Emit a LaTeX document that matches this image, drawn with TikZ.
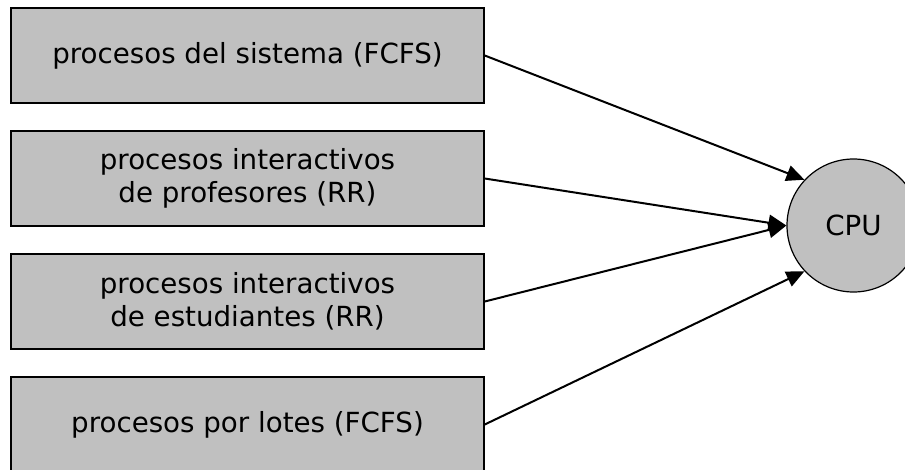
\documentclass[tikz,border=0pt]{standalone}
\usepackage{fontspec}
\setmainfont{DejaVu Sans}
\usetikzlibrary{arrows.meta}
\definecolor{boxgray}{HTML}{C0C0C0}

\begin{document}
\begin{tikzpicture}[x=1pt,y=-1pt,
	proc/.style={rectangle, draw, fill=boxgray, line width=1.5pt, minimum width=473pt, minimum height=95pt, align=center, font=\fontsize{27.7}{33}\selectfont},
	cpu/.style={circle, draw, fill=boxgray, line width=1.2pt, minimum size=133pt, inner sep=0pt, font=\fontsize{27.7}{33}\selectfont},
	flow/.style={-{Triangle[length=18pt,width=16pt]}, line width=2pt}]
		\useasboundingbox (0,0) rectangle (905,469);
		% colas de procesos
		\node[proc] (sis) at (247.5,55.5) {procesos del sistema (FCFS)};
		\node[proc] (prof) at (247.5,178.5) {procesos interactivos\\de profesores (RR)};
		\node[proc] (est) at (247.5,301.5) {procesos interactivos\\de estudiantes (RR)};
		\node[proc] (lot) at (247.5,424.5) {procesos por lotes (FCFS)};
		\node[cpu] (cpu) at (853.5,225.5) {CPU};

		\draw[flow] (sis.east) -- (cpu.137);
		\draw[flow] (prof.east) -- (cpu.west);
		\draw[flow] (est.east) -- (cpu.west);
		\draw[flow] (lot.east) -- (cpu.223);
\end{tikzpicture}
\end{document}
